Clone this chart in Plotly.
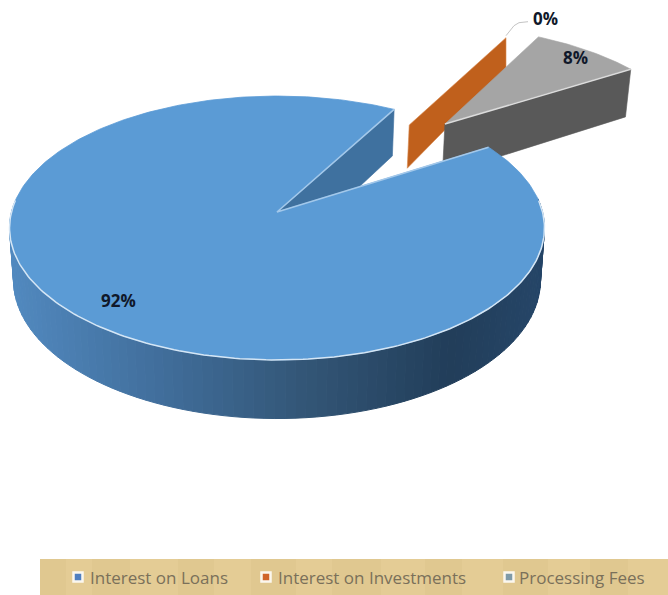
import numpy as np
import plotly.graph_objects as go

# Revenue split shown as an exploded 3-D pie
categories = ["Interest on Loans", "Interest on Investments", "Processing Fees"]
shares = [92, 0, 8]
labels = ["92%", "0%", "8%"]

top_colors = ["#5b9bd5", "#c0601c", "#a5a5a5"]
side_colors = ["#3f6f9f", "#c0601c", "#595959"]
legend_dots = ["#4f7fc0", "#d0652a", "#7f9aa8"]

first_slice_angle = 58.0          # degrees clockwise from north
explode = [(0.0, 0.0), (0.542, 0.728), (0.689, 0.737)]
wall_height = [(51.5, 51.5), (47, 36), (55, 55)]   # at the hub, at the rim

# Camera: perspective projection of the unit pie plane onto the page
HUB_X, HUB_Y, SCALE_X, SCALE_Y, PERSP = 277, 212, 265.5, 130, 0.1212
TAPER = 0.985


def project(px, py):
    w = 1 + PERSP * py
    return HUB_X + SCALE_X * px / w, HUB_Y - SCALE_Y * py / w, w


def dropped(px, py, h):
    x, y, w = project(px, py)
    return HUB_X + (x - HUB_X) * TAPER, y + h / w


def mix(stops, x):
    xs = [s[0] for s in stops]
    rgb = [np.interp(x, xs, [s[1][i] for s in stops]) for i in range(3)]
    return "rgb(%d,%d,%d)" % tuple(int(v) for v in rgb)


fig = go.Figure()


def poly(xs, ys, fill, edge=None, width=0.6):
    fig.add_trace(go.Scatter(x=list(xs), y=list(ys), mode="lines", fill="toself",
                             fillcolor=fill, line=dict(color=edge or fill, width=width),
                             hoverinfo="skip", showlegend=False))


def stroke(xs, ys, color, width):
    fig.add_trace(go.Scatter(x=list(xs), y=list(ys), mode="lines",
                             line=dict(color=color, width=width),
                             hoverinfo="skip", showlegend=False))


# Slice extents, in math degrees
spans = []
cursor = first_slice_angle
for s in shares:
    sweep = s / sum(shares) * 360
    spans.append((90 - cursor, 90 - cursor - sweep))
    cursor += sweep


def arc(i, step=1.0):
    a0, a1 = spans[i]
    n = max(int(abs(a0 - a1) / step), 1)
    return np.radians(np.linspace(a0, a1, n + 1))


def radial_face(i, angle_deg, fill, edge=None):
    ex, ey = explode[i]
    ax, ay = np.cos(np.radians(angle_deg)), np.sin(np.radians(angle_deg))
    h0, h1 = wall_height[i]
    x0, y0, _ = project(ex, ey)
    x1, y1, _ = project(ex + ax, ey + ay)
    bx0, by0 = dropped(ex, ey, h0)
    bx1, by1 = dropped(ex + ax, ey + ay, h1)
    poly([x0, x1, bx1, bx0, x0], [y0, y1, by1, by0, y0], fill, edge)
    return (x0, y0), (x1, y1)


# Zero-share slice: only its radial wall shows
_, orange_rim = radial_face(1, spans[1][0], side_colors[1], "#d98a50")
fig.data[-1].x = (fig.data[-1].x[0], fig.data[-1].x[1],
                  orange_rim[0], fig.data[-1].x[3], fig.data[-1].x[4])

# Detached small slice
t = arc(2)
ex, ey = explode[2]
top = [project(ex + np.cos(a), ey + np.sin(a)) for a in t]
hub = project(ex, ey)
poly([hub[0]] + [p[0] for p in top] + [hub[0]],
     [hub[1]] + [p[1] for p in top] + [hub[1]], top_colors[2])
hub_pt, rim_pt = radial_face(2, spans[2][1], side_colors[2])
stroke([hub_pt[0], rim_pt[0]], [hub_pt[1], rim_pt[1]], "#dcdcdc", 1.5)

# Large slice: the wall seen through the notch
radial_face(0, spans[0][1], "#3f719f")

# Large slice: curved outer wall, shaded left to right
wall_stops = [(8, (82, 138, 192)), (150, (66, 112, 158)), (300, (52, 87, 120)),
              (450, (34, 62, 90)), (543, (38, 70, 104))]
t = arc(0, step=2.0)
for a0, a1 in zip(t[:-1], t[1:]):
    if np.sin((a0 + a1) / 2) > 0.1:
        continue
    x0, y0, _ = project(np.cos(a0), np.sin(a0))
    x1, y1, _ = project(np.cos(a1), np.sin(a1))
    bx0, by0 = dropped(np.cos(a0), np.sin(a0), wall_height[0][0])
    bx1, by1 = dropped(np.cos(a1), np.sin(a1), wall_height[0][0])
    poly([x0, x1, bx1, bx0, x0], [y0, y1, by1, by0, y0], mix(wall_stops, (x0 + x1) / 2), width=1)

# Large slice: top surface and its bright edges
t = arc(0)
top = [project(np.cos(a), np.sin(a)) for a in t]
poly([HUB_X] + [p[0] for p in top] + [HUB_X],
     [HUB_Y] + [p[1] for p in top] + [HUB_Y], top_colors[0], width=0.8)
front = [p for a, p in zip(t, top) if np.sin(a) < 0.1]
stroke([p[0] for p in front], [p[1] for p in front], "#d5e6f5", 1.5)
stroke([top[-1][0], HUB_X, top[0][0]], [top[-1][1], HUB_Y, top[0][1]], "#a3c8ea", 1.6)

# Data labels
label_spots = [(118, 300), (545, 18), (575, 57)]
for text, (lx, ly) in zip(labels, label_spots):
    fig.add_annotation(x=lx, y=ly, text=f"<b>{text}</b>", showarrow=False,
                       font=dict(family="Open Sans", size=17, color="#10182a"))

# Leader from the zero-share slice to its label
lead_x, lead_y = orange_rim
stroke([lead_x, lead_x + 8, lead_x + 13, lead_x + 22],
       [lead_y - 2, lead_y - 12, lead_y - 15, lead_y - 16], "#c4c4c4", 1)

# Legend strip with its woven banding
strip_shapes = [dict(type="rect", x0=40, x1=668, y0=559, y1=595,
                     fillcolor="#e2ca92", line=dict(width=0), layer="below")]
band_edges = [40, 66, 92, 130, 178, 214, 251, 296, 332, 381, 425, 462, 503, 548, 590, 628, 668]
for k, (b0, b1) in enumerate(zip(band_edges[:-1], band_edges[1:])):
    tint = "rgba(255,240,200,0.07)" if k % 2 else "rgba(190,160,90,0.04)"
    strip_shapes.append(dict(type="rect", x0=b0, x1=b1, y0=559, y1=595,
                             fillcolor=tint, line=dict(width=0), layer="below"))

legend_dot_x = [78, 266, 509]
legend_text_x = [88, 276, 517]
for name, color, dx, tx in zip(categories, legend_dots, legend_dot_x, legend_text_x):
    fig.add_trace(go.Scatter(x=[dx], y=[577], mode="markers",
                             marker=dict(symbol="square", size=9, color=color,
                                         line=dict(color="#fbf7ee", width=2.5)),
                             hoverinfo="skip", showlegend=False))
    fig.add_annotation(x=tx, y=577, text=name, showarrow=False, xanchor="left",
                       font=dict(family="Open Sans", size=17, color="#7a705a"))

fig.update_layout(
    width=668, height=595, margin=dict(l=0, r=0, t=0, b=0),
    paper_bgcolor="white", plot_bgcolor="white", showlegend=False,
    shapes=strip_shapes,
    xaxis=dict(range=[0, 668], visible=False, fixedrange=True),
    yaxis=dict(range=[595, 0], visible=False, fixedrange=True),
)
fig.write_html("out.html", config={"displayModeBar": False})
